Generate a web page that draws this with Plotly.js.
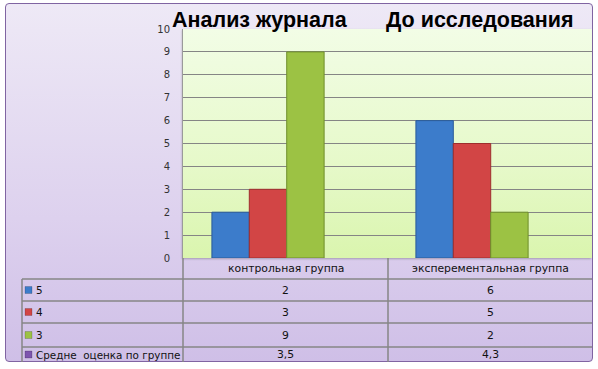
<!DOCTYPE html>
<html><head><meta charset="utf-8">
<script src="https://cdn.plot.ly/plotly-3.0.1.min.js"></script>
<style>
html,body{margin:0;padding:0;background:#fff;width:598px;height:369px;overflow:hidden;}
#frame{position:absolute;left:5px;top:3px;width:586px;height:357px;border:1.5px solid #8064A2;border-radius:4px;
 background:linear-gradient(to bottom,#EEE9F6 0%,#DDD1EE 60%,#CFBFE7 100%);}
#wall{position:absolute;left:183px;top:29px;width:409px;height:229px;
 background:linear-gradient(to bottom,#F2FDE6 0%,#E6F9C9 60%,#DAF5AE 100%);box-shadow:-1px 1px 2px rgba(0,0,0,0.25);}
#chart{position:absolute;left:0;top:0;width:598px;height:369px;}
</style></head>
<body>
<div id="frame"></div>
<div id="wall"></div>
<div id="chart"></div>
<script>
// ---- data ----
const categories = ['контрольная группа', 'эксперементальная группа'];
const seriesNames = ['5', '4', '3'];
const grade5 = [2, 6];
const grade4 = [3, 5];
const grade3 = [9, 2];
const avgLabel = 'Средне  оценка по группе';
const avgValues = ['3,5', '4,3'];
const yTicks = [0,1,2,3,4,5,6,7,8,9,10];
const titleLeft = 'Анализ журнала';
const titleRight = 'До исследования';

const colors = ['#3C7CCB', '#D24545', '#9CC244'];
const lineColors = ['#2B5C99', '#9E2E2E', '#6F8F2C'];
const avgColor = '#7D55AE';

// ---- geometry helpers (pixel -> paper) ----
const L = 183, R = 592, T = 29, B = 258;
const W = R - L, H = B - T;
const px = x => (x - L) / W;
const py = y => (B - y) / H;

const xIdx = categories.map((c, i) => i);
const seriesVals = [grade5, grade4, grade3];
const traces = seriesVals.map((v, i) => ({
  type: 'bar', x: xIdx, y: v, name: seriesNames[i],
  marker: {color: colors[i], line: {color: lineColors[i], width: 1}},
  hoverinfo: 'skip'
}));

const lineStyle = {color: '#868686', width: 1.5};
const shapes = [];
const annotations = [];

// table grid
[279, 301, 323, 347].forEach(y => shapes.push({type:'line', xref:'paper', yref:'paper',
  x0: px(22), x1: px(592), y0: py(y), y1: py(y), line: lineStyle}));
shapes.push({type:'line', xref:'paper', yref:'paper', x0: px(22), x1: px(22), y0: py(279), y1: py(362), line: lineStyle});
shapes.push({type:'line', xref:'paper', yref:'paper', x0: px(183), x1: px(183), y0: py(258), y1: py(362), line: lineStyle});
shapes.push({type:'line', xref:'paper', yref:'paper', x0: px(388), x1: px(388), y0: py(258), y1: py(362), line: lineStyle});

const colCenters = [(183 + 388) / 2, (388 + 592) / 2];
const rowCenters = [268.5, 290, 312, 335, 354.5];
const tFont = {family: 'DejaVu Sans, Verdana, sans-serif', size: 10.8, color: '#111'};
const lFont = {family: 'DejaVu Sans, Verdana, sans-serif', size: 10.4, color: '#111'};

// header categories
categories.forEach((c, i) => annotations.push({xref:'paper', yref:'paper', x: px(colCenters[i]), y: py(rowCenters[0]),
  text: c, showarrow: false, font: tFont, xanchor: 'center', yanchor: 'middle'}));

// row labels + keys + values
const rowLabels = seriesNames.concat([avgLabel]);
const rowColors = colors.concat([avgColor]);
const rowValues = [grade5.map(String), grade4.map(String), grade3.map(String), avgValues];
rowLabels.forEach((lab, r) => {
  const yc = rowCenters[r + 1];
  shapes.push({type:'rect', xref:'paper', yref:'paper', x0: px(25), x1: px(32), y0: py(yc - 3.5), y1: py(yc + 3.5),
    fillcolor: rowColors[r], line: {color: 'rgba(0,0,0,0.35)', width: 0.5}});
  annotations.push({xref:'paper', yref:'paper', x: px(34), y: py(yc), text: lab.replace(/ /g, '\u00A0'),
    showarrow: false, font: lFont, xanchor: 'left', yanchor: 'middle'});
  rowValues[r].forEach((v, c) => annotations.push({xref:'paper', yref:'paper', x: px(colCenters[c]), y: py(yc),
    text: v, showarrow: false, font: tFont, xanchor: 'center', yanchor: 'middle'}));
});

// titles
const tiFont = {family: 'Liberation Sans, Arial, sans-serif', size: 21.5, color: '#000'};
annotations.push({xref:'paper', yref:'paper', x: px(170), y: py(20.5), text: '<b>' + titleLeft + '</b>',
  showarrow: false, font: tiFont, xanchor: 'left', yanchor: 'middle'});
annotations.push({xref:'paper', yref:'paper', x: px(384), y: py(20.5), text: '<b>' + titleRight + '</b>',
  showarrow: false, font: tiFont, xanchor: 'left', yanchor: 'middle'});

const layout = {
  width: 598, height: 369,
  margin: {l: L, r: 598 - R, t: T, b: 369 - B, pad: 0},
  paper_bgcolor: 'rgba(0,0,0,0)', plot_bgcolor: 'rgba(0,0,0,0)',
  barmode: 'group', bargap: 0.45, bargroupgap: 0,
  showlegend: false,
  xaxis: {range: [-0.4167, -0.4167 + W / 204], showticklabels: false, showgrid: false, zeroline: false,
    showline: false, ticks: '', fixedrange: true},
  yaxis: {range: [0, 10], tickvals: yTicks, ticktext: yTicks.map(String), showgrid: true,
    gridcolor: '#858585', gridwidth: 1, zeroline: false, showline: true, linecolor: '#9a9a9a', linewidth: 1,
    ticks: '', ticklabelstandoff: 10,
    tickfont: {family: 'DejaVu Sans, Verdana, sans-serif', size: 10, color: '#333'}, fixedrange: true},
  shapes: shapes,
  annotations: annotations
};

Plotly.newPlot('chart', traces, layout, {displayModeBar: false, staticPlot: true});
</script>
</body></html>
